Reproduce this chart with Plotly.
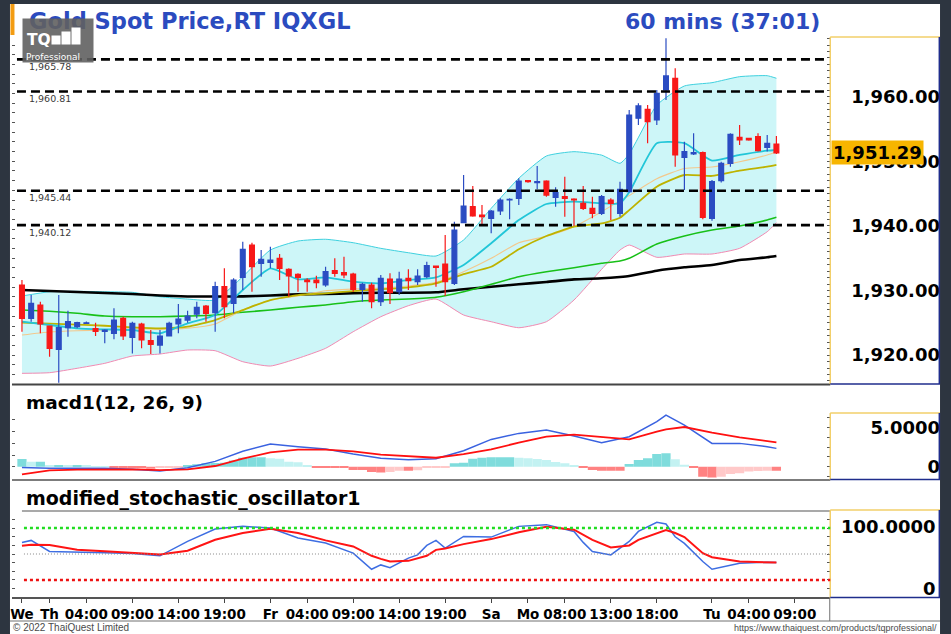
import plotly.graph_objects as go

W, H = 951, 634

# ---------------- data ----------------
opens = [1930.85, 1925.69, 1927.76, 1924.51, 1920.89, 1924.25, 1924.40, 1924.90, 1924.09, 1923.68,
         1923.37, 1925.69, 1922.75, 1924.82, 1922.24, 1921.56, 1922.96, 1924.82, 1925.43, 1926.36,
         1927.60, 1926.57, 1930.59, 1928.01, 1932.04, 1937.04, 1934.21, 1934.36, 1934.98, 1933.28,
         1932.50, 1931.63, 1931.63, 1930.85, 1933.07, 1932.76, 1932.55, 1930.18, 1930.85, 1928.27,
         1931.78, 1929.82, 1931.88, 1931.37, 1932.14, 1933.79, 1934.10, 1931.11, 1940.50, 1942.98,
         1941.69, 1941.17, 1942.31, 1944.01, 1944.27, 1947.00, 1946.69, 1946.95, 1944.42, 1944.53,
         1944.16, 1943.49, 1942.72, 1941.95, 1944.01, 1941.95, 1945.30, 1956.66, 1958.05, 1956.40,
         1961.04, 1962.85, 1950.62, 1951.13, 1951.34, 1941.17, 1947.01, 1949.69, 1953.71, 1953.56,
         1953.82, 1952.17, 1952.68]
highs = [1931.63, 1929.30, 1928.27, 1924.60, 1929.30, 1926.88, 1925.18, 1925.20, 1925.02, 1923.99,
         1927.24, 1925.95, 1925.18, 1925.02, 1923.89, 1923.89, 1925.18, 1927.91, 1926.88, 1928.27,
         1927.76, 1931.37, 1933.43, 1931.88, 1937.56, 1937.41, 1936.27, 1936.79, 1935.65, 1933.43,
         1932.66, 1931.88, 1932.30, 1933.69, 1934.98, 1935.24, 1932.76, 1931.21, 1931.21, 1932.40,
         1932.66, 1932.92, 1933.28, 1933.28, 1934.46, 1933.85, 1938.59, 1940.66, 1947.88, 1946.18,
         1943.24, 1942.46, 1944.27, 1944.27, 1947.36, 1947.11, 1949.27, 1947.05, 1945.97, 1947.62,
         1944.27, 1946.18, 1944.53, 1944.78, 1944.27, 1946.85, 1957.95, 1958.98, 1958.72, 1961.04,
         1969.04, 1964.40, 1953.04, 1954.33, 1951.50, 1947.11, 1949.95, 1954.33, 1955.62, 1953.65,
         1954.33, 1954.08, 1953.92]
lows = [1923.63, 1925.18, 1923.37, 1919.76, 1915.73, 1922.85, 1924.14, 1924.80, 1922.96, 1921.82,
        1922.44, 1922.34, 1920.27, 1921.05, 1920.17, 1920.27, 1922.90, 1923.37, 1925.02, 1925.69,
        1925.18, 1923.63, 1925.69, 1926.47, 1930.08, 1929.82, 1932.14, 1933.43, 1931.63, 1929.05,
        1929.82, 1929.82, 1930.34, 1930.59, 1932.14, 1931.88, 1929.82, 1928.27, 1927.24, 1927.60,
        1927.91, 1929.30, 1930.08, 1930.85, 1931.88, 1930.59, 1929.15, 1930.85, 1940.40, 1941.43,
        1940.14, 1938.85, 1941.69, 1941.02, 1943.24, 1946.69, 1945.66, 1944.53, 1942.98, 1941.43,
        1939.99, 1942.46, 1941.17, 1941.69, 1940.91, 1941.43, 1945.20, 1955.62, 1952.79, 1955.62,
        1959.49, 1949.17, 1945.56, 1950.98, 1941.02, 1940.81, 1946.70, 1949.17, 1952.53, 1953.20,
        1951.50, 1951.50, 1951.13]
closes = [1925.69, 1928.01, 1924.82, 1921.05, 1924.25, 1925.18, 1925.02, 1925.00, 1923.68, 1923.89,
          1925.43, 1922.96, 1924.92, 1922.34, 1921.67, 1922.96, 1924.92, 1925.59, 1926.05, 1927.39,
          1926.47, 1930.59, 1927.50, 1931.63, 1936.37, 1933.69, 1934.83, 1934.72, 1933.43, 1932.25,
          1932.04, 1931.37, 1931.21, 1932.92, 1932.66, 1932.40, 1930.18, 1930.96, 1928.27, 1931.88,
          1929.67, 1931.78, 1931.52, 1932.25, 1933.84, 1933.59, 1931.37, 1939.37, 1943.08, 1941.53,
          1941.43, 1942.31, 1944.01, 1944.11, 1946.95, 1946.85, 1946.85, 1944.78, 1945.14, 1944.27,
          1944.01, 1942.72, 1941.95, 1944.53, 1943.49, 1945.66, 1957.17, 1958.57, 1956.14, 1960.53,
          1963.21, 1950.98, 1951.50, 1951.34, 1941.33, 1946.85, 1949.69, 1954.18, 1953.30, 1953.30,
          1951.65, 1952.79, 1951.29]

level_lines = [1965.78, 1960.81, 1945.44, 1940.12]

# overlay indicators sampled at these bar indices
ov_idx = [0, 3, 6, 9, 12, 15, 18, 21, 24, 27, 30, 33, 36, 39, 42, 45, 48, 51, 54, 57,
          60, 63, 65, 66, 69, 72, 75, 78, 81, 82]
ma_black = [1930.08, 1929.92, 1929.77, 1929.61, 1929.46, 1929.23, 1929.07, 1929.07, 1929.10, 1929.23,
            1929.41, 1929.46, 1929.57, 1929.66, 1929.66, 1929.72, 1930.19, 1930.59, 1930.96, 1931.32,
            1931.73, 1931.89, 1932.09, 1932.24, 1933.07, 1933.59, 1933.95, 1934.72, 1935.14, 1935.34]
ma_green = [1926.98, 1926.78, 1926.47, 1926.05, 1925.94, 1925.94, 1926.05, 1926.21, 1926.63, 1926.98,
            1927.40, 1927.76, 1928.27, 1928.53, 1928.68, 1928.95, 1929.81, 1930.96, 1932.14, 1932.91,
            1933.53, 1934.21, 1934.57, 1934.98, 1937.19, 1938.44, 1939.37, 1939.99, 1940.91, 1941.33]
bb_upper = [1929.15, 1929.81, 1929.88, 1929.81, 1929.72, 1929.04, 1928.68, 1928.53, 1932.14, 1936.27,
            1937.66, 1937.93, 1937.40, 1936.53, 1935.85, 1935.34, 1937.82, 1942.72, 1947.37, 1950.82,
            1951.49, 1950.96, 1949.69, 1951.13, 1958.70, 1961.66, 1962.17, 1963.10, 1963.25, 1962.85]
bb_lower = [1917.18, 1917.28, 1917.96, 1918.73, 1919.86, 1920.17, 1920.79, 1920.68, 1918.98, 1918.31,
            1919.50, 1921.05, 1923.62, 1925.94, 1927.65, 1928.68, 1926.21, 1925.17, 1924.24, 1925.17,
            1928.53, 1933.28, 1936.27, 1937.04, 1935.14, 1935.65, 1935.65, 1936.53, 1939.10, 1940.50]
ma_cyan = [1925.17, 1924.66, 1924.15, 1923.99, 1923.89, 1923.37, 1924.92, 1926.21, 1930.08, 1933.44,
           1931.73, 1932.04, 1931.36, 1931.11, 1931.63, 1932.04, 1933.95, 1937.31, 1940.91, 1943.39,
           1943.75, 1943.50, 1943.50, 1945.20, 1952.80, 1952.80, 1950.10, 1950.98, 1951.64, 1951.75]
ma_yellow = [1925.02, 1924.86, 1924.71, 1924.55, 1924.30, 1924.15, 1924.40, 1925.43, 1926.98, 1928.53,
             1929.30, 1929.57, 1929.92, 1930.19, 1930.50, 1931.11, 1932.55, 1933.68, 1936.38, 1938.44,
             1939.88, 1940.39, 1941.27, 1942.45, 1946.07, 1947.88, 1947.73, 1948.55, 1949.16, 1949.43]
ma_orange = [1923.11, 1923.58, 1923.78, 1923.89, 1924.09, 1923.99, 1924.15, 1924.81, 1926.98, 1928.53,
             1929.15, 1929.97, 1930.23, 1930.39, 1930.70, 1931.27, 1932.91, 1934.98, 1937.40, 1938.39,
             1939.88, 1942.20, 1943.90, 1944.70, 1947.31, 1948.89, 1949.12, 1949.94, 1950.98, 1951.49]

macd_hist = [0.98, 0.64, 0.64, 0.21, 0.21, 0.17, 0.17, 0.13, 0.09, 0.04,
             -0.04, -0.09, -0.09, -0.21, -0.26, -0.17, -0.13, -0.09, 0.17, 0.30,
             0.43, 0.47, 0.51, 0.81, 1.15, 1.20, 1.20, 1.07, 1.03, 0.64,
             0.56, 0.21, -0.04, -0.09, -0.09, -0.13, -0.43, -0.43, -0.68, -0.73,
             -0.68, -0.51, -0.51, -0.47, -0.17, -0.13, -0.09, 0.43, 0.51, 1.03,
             1.15, 1.20, 1.20, 1.20, 1.15, 1.07, 0.98, 0.85, 0.60, 0.43,
             0.17, -0.09, -0.43, -0.51, -0.51, -0.51, 0.34, 0.85, 1.07, 1.62,
             1.71, 0.94, 0.26, -0.09, -1.28, -1.37, -1.28, -0.94, -0.85, -0.60,
             -0.56, -0.51, -0.51]
macd_idx = [0, 3, 6, 9, 12, 15, 18, 21, 24, 27, 30, 33, 36, 39, 42, 45, 48, 51, 54, 57,
            60, 63, 66, 69, 70, 72, 75, 78, 81, 82]
macd_line = [-0.09, -0.21, -0.21, -0.21, -0.34, -0.56, -0.13, 0.68, 1.97, 2.91,
             2.56, 2.26, 1.62, 1.07, 0.90, 1.03, 2.05, 3.50, 4.27, 4.70,
             3.93, 3.08, 3.85, 5.77, 6.62, 5.34, 2.99, 2.99, 2.56, 2.35]
macd_signal = [-0.98, -0.47, -0.38, -0.34, -0.34, -0.43, -0.34, 0.09, 1.03, 1.84,
               2.18, 2.18, 1.97, 1.54, 1.32, 1.15, 1.62, 2.22, 3.08, 3.85,
               4.10, 3.76, 3.50, 4.49, 4.79, 5.09, 4.36, 3.76, 3.29, 3.12]

stoch_idx = [0, 1, 3, 6, 9, 12, 15, 18, 21, 24, 27, 30, 33, 36, 38, 39, 40, 42, 43, 44,
             45, 46, 48, 51, 54, 57, 60, 61, 62, 64, 66, 67, 69, 70, 71, 72, 74, 75, 78, 81, 82]
stoch_k = [63.4, 65.7, 52.9, 52.5, 51.4, 50.6, 47.9, 64.5, 78.8, 81.9, 80.0, 68.4, 62.6, 51.0,
           32.4, 37.4, 34.3, 45.2, 49.0, 59.9, 65.7, 56.8, 70.3, 69.5, 81.9, 83.9, 76.1, 63.4,
           52.9, 49.0, 64.5, 76.1, 86.6, 84.6, 69.9, 62.2, 41.3, 32.4, 39.4, 40.5, 40.1]
stoch_d = [59.5, 60.6, 60.3, 54.8, 53.3, 51.7, 49.4, 53.7, 66.4, 74.2, 79.2, 74.2, 65.7, 58.7,
           47.9, 44.4, 41.3, 42.1, 44.8, 47.9, 54.8, 56.4, 61.4, 67.2, 75.0, 81.5, 78.1, 72.3,
           66.4, 57.5, 59.9, 66.4, 74.2, 77.7, 74.2, 69.5, 51.0, 46.3, 41.3, 40.5, 40.1]
stoch_levels = [80, 50, 20]

x_tick_idx = [0, 3, 7, 12, 17, 22, 27, 31, 36, 41, 46, 51, 55, 59, 64, 69, 75, 79, 84]
x_tick_text = ["We", "Th", "04:00", "09:00", "14:00", "19:00", "Fr", "04:00", "09:00", "14:00",
               "19:00", "Sa", "Mo", "08:00", "13:00", "18:00", "Tu", "04:00", "09:00"]
macd_tick_vals = [0, 5]
macd_tick_text = ["0", "5.0000"]
stoch_label_vals = [100, 0]
stoch_label_text = ["100.0000", "0"]

title_text = "Gold Spot Price,RT IQXGL"
interval_text = "60 mins (37:01)"
macd_title = "macd1(12, 26, 9)"
stoch_title = "modified_stochastic_oscillator1"

# ---------------- layout geometry (pixels) ----------------
def PX(p):
    return p / W


def PY(p):
    return 1 - p / H


bars = list(range(len(opens)))
X_L, X_R = 10, 830
x_range = [(X_L - 20) / 9.22, (X_R - 20) / 9.22]
price_dom = [PY(384), PY(37)]
price_rng = [1915.53, 1969.24]
macd_dom = [PY(479), PY(413)]
macd_rng = [(466.7 - 479) / 7.8, (466.7 - 413) / 7.8]
stoch_dom = [PY(597.3), PY(510.7)]
stoch_rng = [0, 100]

BLUE = "#2b4cc2"
RED = "#f81818"
BOLD = dict(family="DejaVu Sans", weight="bold", color="black")

fig = go.Figure()

# Bollinger band + moving averages (base price subplot)
fig.add_trace(go.Scatter(x=ov_idx, y=bb_upper, mode="lines", line=dict(color="#3fd0de", width=1, shape="spline", smoothing=0.5),
                         hoverinfo="skip", showlegend=False))
fig.add_trace(go.Scatter(x=ov_idx, y=bb_lower, mode="lines", line=dict(color="#f08ab2", width=1, shape="spline", smoothing=0.5),
                         fill="tonexty", fillcolor="#cdf6f8", hoverinfo="skip", showlegend=False))
for ys, col, wd in [(ma_black, "#000000", 2.6), (ma_green, "#18c018", 1.6), (ma_orange, "#f3c88c", 1.1),
                    (ma_yellow, "#bdb300", 1.8), (ma_cyan, "#22c6d8", 1.8)]:
    fig.add_trace(go.Scatter(x=ov_idx, y=ys, mode="lines", line=dict(color=col, width=wd, shape="spline", smoothing=0.5),
                             hoverinfo="skip", showlegend=False))

# candles on an overlaying axis so they sit above the band fill
fig.add_trace(go.Candlestick(x=bars, open=opens, high=highs, low=lows, close=closes,
                             increasing=dict(line=dict(color=BLUE, width=1.2), fillcolor=BLUE),
                             decreasing=dict(line=dict(color=RED, width=1.2), fillcolor=RED),
                             whiskerwidth=0, hoverinfo="skip", showlegend=False, xaxis="x", yaxis="y10"))

# MACD
hist_cols = []
for i, h in enumerate(macd_hist):
    prev = macd_hist[i - 1] if i else h
    if h >= 0:
        hist_cols.append("#7fdcdc" if h >= prev else "#c3f2f2")
    else:
        hist_cols.append("#ff8282" if h <= prev else "#ffc9c9")
fig.add_trace(go.Bar(x=bars, y=macd_hist, width=1.0, marker=dict(color=hist_cols, line=dict(width=0)),
                     hoverinfo="skip", showlegend=False, xaxis="x2", yaxis="y2"))
fig.add_trace(go.Scatter(x=macd_idx, y=macd_line, mode="lines", line=dict(color="#3a62e0", width=1.5),
                         hoverinfo="skip", showlegend=False, xaxis="x2", yaxis="y2"))
fig.add_trace(go.Scatter(x=macd_idx, y=macd_signal, mode="lines", line=dict(color="#ff1010", width=1.8),
                         hoverinfo="skip", showlegend=False, xaxis="x2", yaxis="y2"))

# Stochastic
fig.add_trace(go.Scatter(x=stoch_idx, y=stoch_k, mode="lines", line=dict(color="#3e6ee2", width=1.5),
                         hoverinfo="skip", showlegend=False, xaxis="x3", yaxis="y3"))
fig.add_trace(go.Scatter(x=stoch_idx, y=stoch_d, mode="lines", line=dict(color="#ff1414", width=2),
                         hoverinfo="skip", showlegend=False, xaxis="x3", yaxis="y3"))

# dummy traces so that tick-only axes are drawn
for xa, ya in [("x", "y4"), ("x", "y5"), ("x2", "y6"), ("x2", "y7"), ("x3", "y8"), ("x3", "y9")]:
    fig.add_trace(go.Scatter(x=[None], y=[None], xaxis=xa, yaxis=ya, showlegend=False, hoverinfo="skip"))

xbase = dict(domain=[PX(X_L), PX(X_R)], range=x_range, showgrid=False, zeroline=False, fixedrange=True,
             rangeslider=dict(visible=False))


def tick_axis(over, xa, side, rng, dtick):
    return dict(overlaying=over, anchor=xa, side=side, range=rng, ticks="inside", ticklen=3, tickwidth=1,
                tickcolor="#555555", dtick=dtick, tick0=0, showticklabels=False, showgrid=False,
                zeroline=False, showline=False, fixedrange=True)


label_axis = dict(anchor="free", position=PX(940), side="left", ticks="", showgrid=False, zeroline=False,
                  showline=False, fixedrange=True, tickfont=dict(size=18, **BOLD), ticklabelstandoff=0)

fig.update_layout(
    width=W, height=H, margin=dict(l=0, r=0, t=0, b=0),
    paper_bgcolor="#2d3540", plot_bgcolor="white", showlegend=False, boxgap=0.25,
    xaxis=dict(anchor="y", showticklabels=False, **xbase),
    xaxis2=dict(anchor="y2", matches="x", showticklabels=False, **xbase),
    xaxis3=dict(anchor="y3", matches="x", tickmode="array", tickvals=x_tick_idx, ticktext=x_tick_text,
                ticks="outside", ticklen=4, tickcolor="#444", showline=True, linecolor="#555", linewidth=1.5,
                tickfont=dict(size=13.5, **BOLD), **xbase),
    yaxis=dict(domain=price_dom, range=price_rng, dtick=10, tick0=0, tickformat=",.2f", **label_axis),
    yaxis2=dict(domain=macd_dom, range=macd_rng, tickmode="array", tickvals=macd_tick_vals,
                ticktext=macd_tick_text, **label_axis),
    yaxis3=dict(domain=stoch_dom, range=stoch_rng, showticklabels=False,
                **{k: v for k, v in label_axis.items() if k != "tickfont"}),
    yaxis4=tick_axis("y", "x", "right", price_rng, 1),
    yaxis5=tick_axis("y", "x", "left", price_rng, 1.5),
    yaxis6=tick_axis("y2", "x2", "right", macd_rng, 1.25),
    yaxis7=tick_axis("y2", "x2", "left", macd_rng, 1.5),
    yaxis8=tick_axis("y3", "x3", "right", stoch_rng, 10),
    yaxis9=tick_axis("y3", "x3", "left", stoch_rng, 10),
    yaxis10=dict(overlaying="y", anchor="x", side="right", range=price_rng, showticklabels=False, ticks="",
                 showgrid=False, zeroline=False, showline=False, fixedrange=True),
)

shapes = []


def pline(x0, y0, x1, y1, color, width, layer="above"):
    shapes.append(dict(type="line", xref="paper", yref="paper", x0=PX(x0), y0=PY(y0), x1=PX(x1), y1=PY(y1),
                       line=dict(color=color, width=width), layer=layer))


# white chart sheet
shapes.append(dict(type="rect", xref="paper", yref="paper", x0=PX(8), x1=PX(940), y0=PY(634), y1=PY(4),
                   fillcolor="white", line=dict(width=0), layer="below"))
shapes.append(dict(type="rect", xref="paper", yref="paper", x0=PX(8.5), x1=PX(12.5), y0=PY(35), y1=PY(4),
                   fillcolor="#f39c12", line=dict(width=0), layer="above"))
# panel separators
pline(X_L, 384.5, X_R, 384.5, "#454545", 2)
pline(X_L, 480, X_R, 480, "#505050", 1.5)
pline(20, 511, X_R, 511, "#8c8c8c", 1.5)
pline(8, 621, 940, 621, "#707070", 1)
pline(829.5, 597, 829.5, 621, "#707070", 1)
# right-hand value boxes
for top, bot in [(37, 384), (413, 479.5), (510, 597.5)]:
    pline(830, top, 830, bot, "#f2cf6a", 1.5)
    pline(830, top, 940, top, "#f2cf6a", 1.5)
    pline(939.3, top, 939.3, bot, "#1f2d8c", 1.5)
    pline(830, bot, 940, bot, "#1f2d8c", 1.5)

# horizontal price levels
for lv in level_lines:
    shapes.append(dict(type="line", xref="x domain", yref="y", x0=(15 - X_L) / (X_R - X_L), x1=0.998, y0=lv, y1=lv,
                       line=dict(color="black", width=2.6, dash="9px,5px"), layer="above"))
# stochastic levels
for lv, col, wd, dsh in zip(stoch_levels, ["#22dd22", "#8a8a8a", "#ee1111"], [2.6, 1, 2.6],
                            ["3px,3px", "1px,2px", "3px,3px"]):
    shapes.append(dict(type="line", xref="x3 domain", yref="y3", x0=(22 - X_L) / (X_R - X_L), x1=1, y0=lv, y1=lv,
                       line=dict(color=col, width=wd, dash=dsh), layer="above"))

ann = []


def ptext(txt, x, y, size, color="black", anchor="left", bold=True, family="DejaVu Sans", **kw):
    f = dict(family=family, size=size, color=color)
    if bold:
        f["weight"] = "bold"
    ann.append(dict(text=txt, xref="paper", yref="paper", x=PX(x), y=PY(y), xanchor=anchor, yanchor="middle",
                    showarrow=False, font=f, **kw))


def pbox(x, y_bottom, w, h, color):
    ann.append(dict(text=" ", xref="paper", yref="paper", x=PX(x), y=PY(y_bottom), xanchor="left",
                    yanchor="bottom", width=w, height=h, bgcolor=color, borderpad=0, showarrow=False,
                    font=dict(size=1)))


ptext(title_text, 25, 21, 22.5, color="#2b4bbf")
ptext(interval_text, 822, 21, 22, color="#2b4bbf", anchor="right")
# logo (drawn over the title)
pbox(20, 63, 70, 43, "rgba(96,96,96,0.9)")
ptext("TQ", 23, 40, 15.5, color="white")
for bx, bh in [(49, 8), (59, 12), (69, 16)]:
    pbox(bx, 45, 8, bh, "white")
ptext("Professional", 22, 57, 9, color="white", bold=False)

ptext(macd_title, 22, 402, 18.5)
ptext(stoch_title, 22, 498, 19)

for lv in level_lines:
    ann.append(dict(text=f"{lv:,.2f}", xref="paper", yref="y", x=PX(25), y=lv, yshift=-7, xanchor="left",
                    yanchor="middle", showarrow=False, font=dict(family="DejaVu Sans", size=9.5, color="#3a3a3a")))

ann.append(dict(text=f"{closes[-1]:,.2f}", xref="paper", yref="y", x=PX(831), y=closes[-1], xanchor="left",
                yanchor="middle", showarrow=False, bgcolor="#f7b500", borderpad=1, font=dict(size=18, **BOLD)))

for v, t, sh in zip(stoch_label_vals, stoch_label_text, [-16, 9]):
    ann.append(dict(text=t, xref="paper", yref="y3", x=PX(938), y=v, yshift=sh, xanchor="right", yanchor="middle",
                    showarrow=False, font=dict(size=18, **BOLD)))

ptext("© 2022 ThaiQuest Limited", 9, 627.5, 10, color="#4a4a4a", bold=False, family="Liberation Sans")
ptext("https://www.thaiquest.com/products/tqprofessional/", 939, 628, 9, color="#4a4a4a", anchor="right",
      bold=False, family="Liberation Sans")

fig.update_layout(shapes=shapes, annotations=ann)
fig.write_html("out.html", config={"displayModeBar": False},
               post_script="document.body.style.margin='0px';document.body.style.overflow='hidden';")
